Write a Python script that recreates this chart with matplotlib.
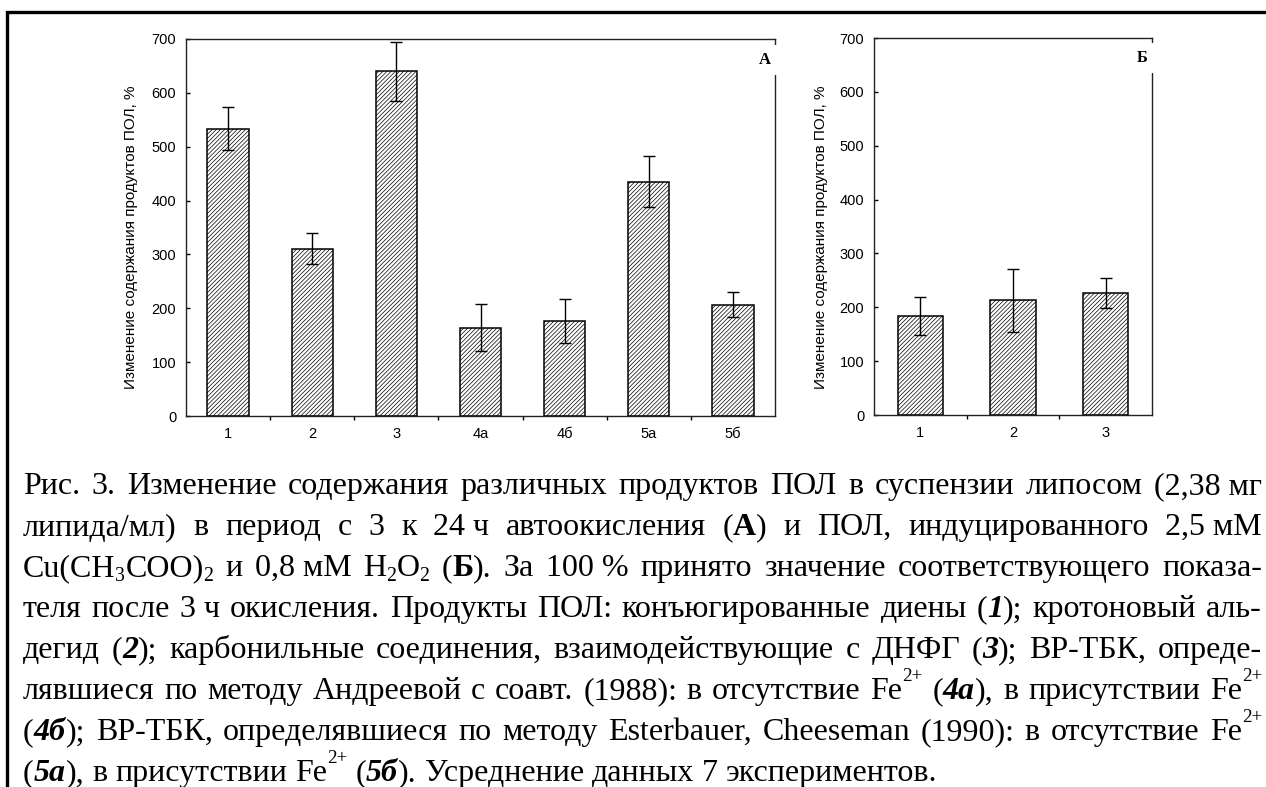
import re

import matplotlib
matplotlib.use("Agg")
import matplotlib.pyplot as plt
import numpy as np
from matplotlib.lines import Line2D

W, H = 1266, 787

# panel A: autoxidation 3 -> 24 h
cats_a = ["1", "2", "3", "4а", "4б", "5а", "5б"]
vals_a = [533, 311, 640, 164, 176, 435, 207]
errs_a = [40, 28, 55, 44, 41, 47, 24]

# panel B: Cu / H2O2 induced
cats_b = ["1", "2", "3"]
vals_b = [184, 213, 226]
errs_b = [36, 58, 28]

ylabel = "Изменение содержания продуктов ПОЛ, %"

# caption lines; {b:..} bold, {bi:..} bold italic, {sup:..}/{sub:..} scripts,
# \u00a0 = space that is not stretched by justification
caption = [
    "Рис. 3. Изменение содержания различных продуктов ПОЛ в суспензии липосом (2,38\u00a0мг",
    "липида/мл) в период с 3 к 24\u00a0ч автоокисления ({b:А}) и ПОЛ, индуцированного 2,5\u00a0мМ",
    "Cu(CH{sub:3}COO){sub:2} и 0,8\u00a0мМ H{sub:2}O{sub:2} ({b:Б}). За 100\u00a0% принято значение соответствующего показа-",
    "теля после 3\u00a0ч окисления. Продукты ПОЛ: конъюгированные диены ({bi:1}); кротоновый аль-",
    "дегид ({bi:2}); карбонильные соединения, взаимодействующие с ДНФГ ({bi:3}); ВР-ТБК, опреде-",
    "лявшиеся по методу Андреевой с соавт. (1988): в отсутствие Fe{sup:2+} ({bi:4а}), в присутствии Fe{sup:2+}",
    "({bi:4б}); ВР-ТБК, определявшиеся по методу Esterbauer, Cheeseman (1990): в отсутствие Fe{sup:2+}",
    "({bi:5а}), в присутствии Fe{sup:2+} ({bi:5б}). Усреднение данных 7 экспериментов.",
]

plt.rcParams.update({"font.family": "Liberation Sans", "font.size": 10.5,
                     "hatch.linewidth": 0.5, "axes.linewidth": 1.0})

fig = plt.figure(figsize=(W / 100, H / 100), dpi=100)


def panel(px, cats, vals, errs, letter, letter_xy, label_xy):
    left, right, top, bottom = px
    ax = fig.add_axes([left / W, 1 - bottom / H, (right - left) / W, (bottom - top) / H])
    x = np.arange(1, len(cats) + 1)
    ax.bar(x, vals, width=0.49, color="white", edgecolor="black", linewidth=1.1,
           hatch="////////", zorder=2)
    ax.errorbar(x, vals, yerr=errs, fmt="none", ecolor="black", elinewidth=1.0,
                capsize=4, capthick=1.0, zorder=3)
    ax.set_xlim(0.5, len(cats) + 0.5)
    ax.set_ylim(0, 700)
    ax.set_yticks(range(0, 701, 100))
    ax.set_xticks(np.arange(1.5, len(cats)), labels=[])
    ax.set_xticks(x, cats, minor=True)
    ax.tick_params(axis="x", which="major", direction="out", length=3, width=1)
    ax.tick_params(axis="x", which="minor", length=0, pad=8)
    ax.tick_params(axis="y", direction="in", length=3, width=1, pad=7)
    for s in ax.spines.values():
        s.set_color("#222222")
    ax.set_ylabel(ylabel, fontsize=11)
    ax.yaxis.set_label_coords(*label_xy)
    ax.text(*letter_xy, letter, transform=ax.transAxes, ha="center", va="center",
            family="Liberation Serif", fontweight="bold", fontsize=12, zorder=5,
            clip_on=False, bbox=dict(facecolor="white", edgecolor="none", pad=5))
    return ax


panel((186, 775, 39, 416), cats_a, vals_a, errs_a, "А", (0.9830, 0.9443), (-0.0815, 0.475))
panel((874, 1152, 38, 415), cats_b, vals_b, errs_b, "Б", (0.9640, 0.947), (-0.165, 0.472))

# outer frame (runs off the right and bottom edge)
fig.add_artist(Line2D([7.5 / W, 7.5 / W, 1.01], [-0.01, 1 - 11.5 / H, 1 - 11.5 / H],
                      color="black", lw=2.4, solid_joinstyle="miter"))

# justified caption
MARK = re.compile(r"\{(b|bi|sup|sub):([^}]*)\}")
STYLE = {
    "n": (1.0, "normal", "normal", 0.0),
    "b": (1.0, "bold", "normal", 0.0),
    "bi": (1.0, "bold", "italic", 0.0),
    "sup": (0.6, "normal", "normal", 0.55),
    "sub": (0.62, "normal", "normal", -0.17),
}


def runs_of(word):
    out, pos = [], 0
    for m in MARK.finditer(word):
        if m.start() > pos:
            out.append(("n", word[pos:m.start()]))
        out.append((m.group(1), m.group(2)))
        pos = m.end()
    if pos < len(word):
        out.append(("n", word[pos:]))
    return out


renderer = fig.canvas.get_renderer()
FS = 23
EM = FS * fig.dpi / 72
L, R = 23, 1262
for i, line in enumerate(caption):
    y = 494 + 41 * i
    words = []
    for w in line.split(" "):
        items = []
        for kind, s in runs_of(w):
            size, weight, style, rise = STYLE[kind]
            t = fig.text(0, 1 - (y - rise * EM) / H, s, fontsize=FS * size,
                         fontweight=weight, fontstyle=style, family="Liberation Serif",
                         va="baseline", ha="left")
            items.append((t, t.get_window_extent(renderer).width))
        words.append(items)
    total = sum(wd for items in words for _, wd in items)
    if i < len(caption) - 1:
        gap = (R - L - total) / (len(words) - 1)
    else:
        gap = 0.25 * EM
    x = L
    for items in words:
        for t, wd in items:
            t.set_x(x / W)
            x += wd
        x += gap

fig.savefig("out.png", dpi=100)
